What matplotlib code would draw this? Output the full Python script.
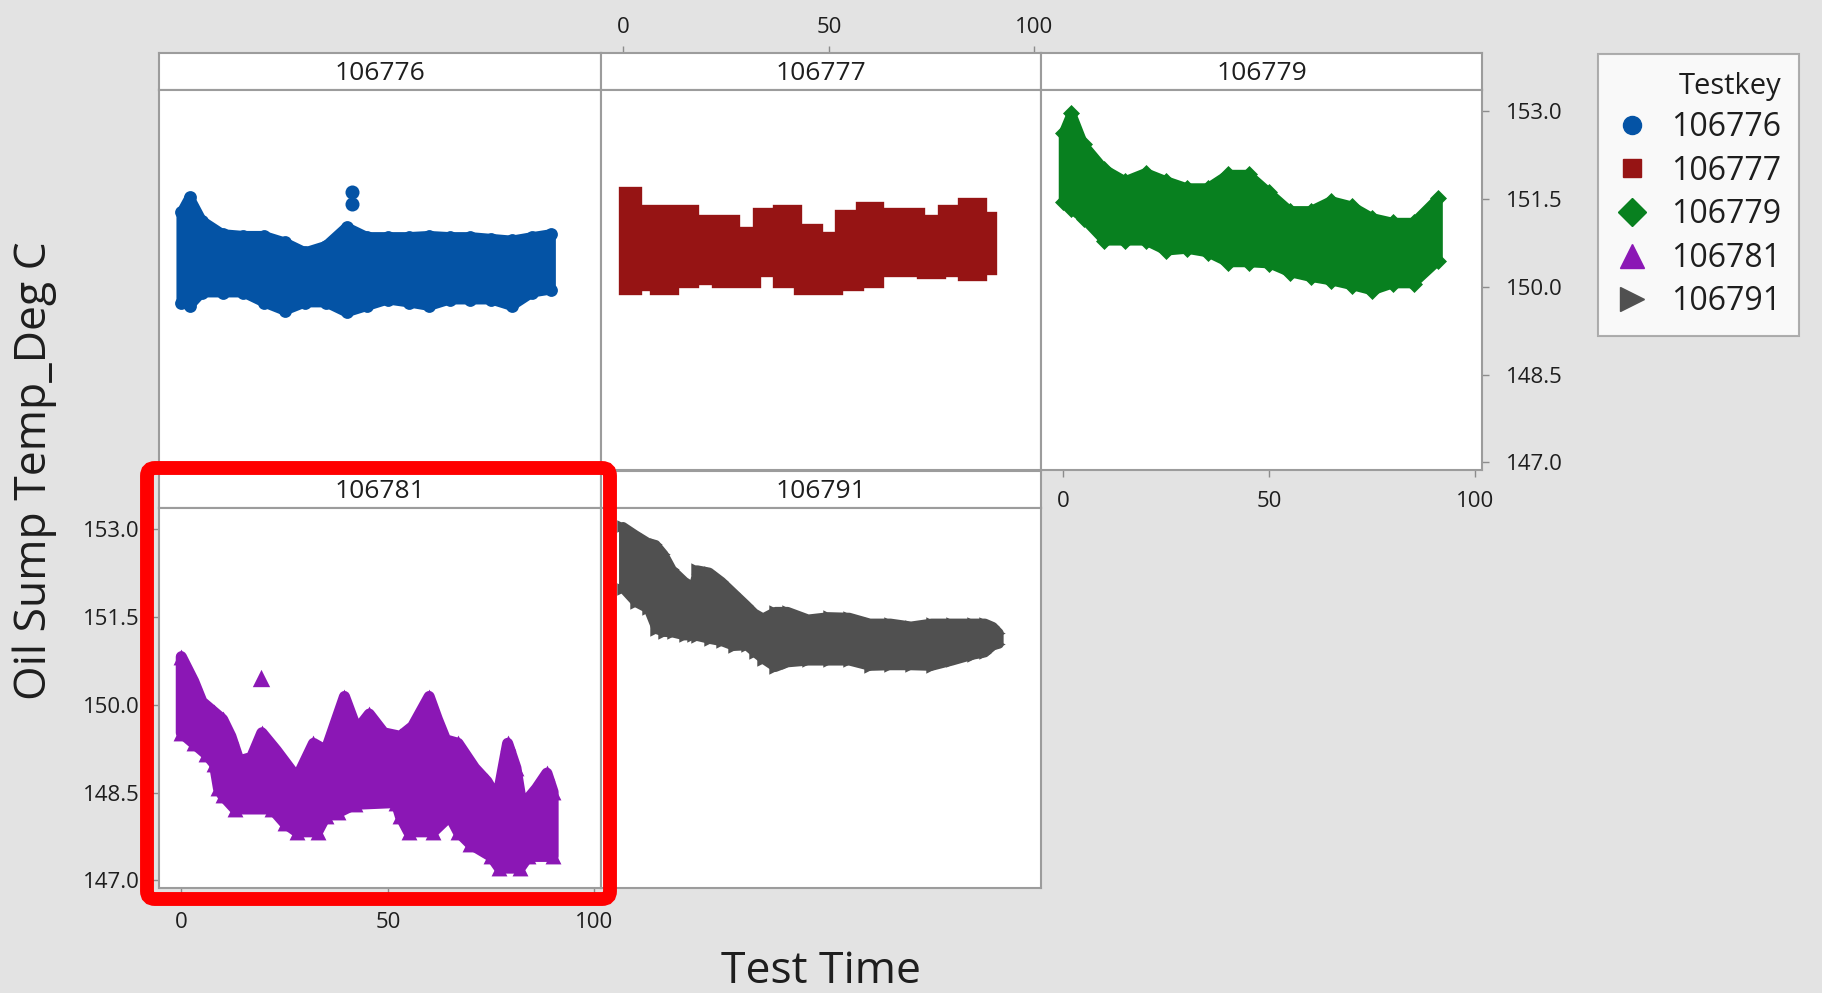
import numpy as np
import matplotlib
matplotlib.use("Agg")
import matplotlib.pyplot as plt
from matplotlib.lines import Line2D
from matplotlib.patches import FancyBboxPatch
from matplotlib.transforms import IdentityTransform

plt.rcParams["font.family"] = ["Open Sans", "DejaVu Sans"]

# Oil sump temperature vs test time, one panel per Testkey.
# Each point cloud is kept as its upper / lower envelope (marker centres).
testkeys = ["106776", "106777", "106779", "106781", "106791"]
colors = ["#0453a5", "#961414", "#08801f", "#8b17b5", "#505050"]
markers = ["o", "s", "D", "^", ">"]

t_106776 = [0, 2, 5, 10, 15, 20, 25, 30, 35, 40, 45, 50, 55, 60, 65, 70, 75, 80, 85, 89.5]
hi_106776 = [151.27, 151.53, 151.13, 150.90, 150.87, 150.87, 150.76, 150.59, 150.70, 151.02,
             150.85, 150.85, 150.85, 150.87, 150.85, 150.85, 150.82, 150.79, 150.85, 150.90]
lo_106776 = [149.73, 149.67, 149.90, 149.90, 149.90, 149.73, 149.59, 149.73, 149.73, 149.56,
             149.67, 149.78, 149.73, 149.67, 149.78, 149.78, 149.78, 149.67, 149.90, 149.95]
out_t_106776 = [41.4, 41.4]
out_y_106776 = [151.61, 151.41]

t_106777 = [0, 2, 5, 10, 15, 20, 25, 30, 35, 40, 45, 50, 55, 60, 65, 70, 75, 80, 85, 90]
hi_106777 = [151.64, 151.64, 151.33, 151.33, 151.33, 151.15, 151.15, 150.96, 151.27, 151.33,
             151.01, 150.87, 151.24, 151.38, 151.27, 151.27, 151.15, 151.33, 151.44, 151.21]
lo_106777 = [149.93, 149.93, 149.99, 149.93, 150.05, 150.10, 150.05, 150.05, 150.24, 150.05,
             149.93, 149.93, 149.99, 150.05, 150.24, 150.24, 150.20, 150.24, 150.16, 150.27]

t_106779 = [0, 2, 5, 10, 15, 20, 25, 30, 35, 40, 45, 50, 55, 60, 65, 70, 75, 80, 85, 91]
hi_106779 = [152.63, 152.97, 152.43, 152.01, 151.81, 151.95, 151.81, 151.69, 151.69, 151.92,
             151.92, 151.61, 151.30, 151.30, 151.47, 151.38, 151.18, 151.10, 151.10, 151.52]
lo_106779 = [151.44, 151.32, 151.15, 150.78, 150.78, 150.78, 150.61, 150.64, 150.58, 150.41,
             150.41, 150.39, 150.24, 150.16, 150.10, 150.02, 149.93, 150.05, 150.05, 150.44]

t_hi_106781 = [0, 3, 5, 8, 10, 12, 14, 17, 19.5, 23, 28, 32, 35, 37, 39.5, 42.5, 45.5, 49, 53,
               56, 60, 62, 64, 67, 71, 74, 76.5, 79, 81, 82.5, 86, 88.5, 90]
hi_106781 = [150.82, 150.40, 150.05, 149.87, 149.75, 149.46, 149.04, 149.10, 149.52, 149.22,
             148.75, 149.34, 149.22, 149.63, 150.14, 149.57, 149.84, 149.52, 149.46, 149.63,
             150.14, 149.75, 149.40, 149.34, 148.92, 148.69, 148.39, 149.34, 148.92, 148.27,
             148.57, 148.83, 148.51]
t_lo_106781 = [0, 3, 6, 8, 9, 10, 13, 22, 25, 28, 33, 35, 38, 42, 52, 53, 55, 61, 65, 67, 70,
               75, 77, 82, 84, 90]
lo_106781 = [149.52, 149.34, 149.16, 148.99, 148.57, 148.45, 148.22, 148.22, 147.98, 147.83,
             147.83, 148.10, 148.16, 148.30, 148.33, 148.10, 147.83, 147.83, 148.10, 147.83,
             147.62, 147.41, 147.21, 147.21, 147.41, 147.41]
out_t_106781 = [19.3]
out_y_106781 = [150.46]

t_106791 = [0, 3, 6, 8, 10, 12, 15, 17, 18, 21, 24, 27, 30, 32, 34, 37, 40, 45, 50, 55, 60,
            65, 70, 75, 80, 85, 88, 90, 91.5]
hi_106791 = [153.05, 152.91, 152.78, 152.74, 152.57, 152.31, 152.11, 152.02, 152.31, 152.27,
             152.11, 151.91, 151.71, 151.57, 151.49, 151.60, 151.60, 151.47, 151.51, 151.50,
             151.40, 151.40, 151.35, 151.40, 151.40, 151.40, 151.40, 151.34, 151.23]
lo_106791 = [151.97, 151.74, 151.63, 151.28, 151.23, 151.22, 151.17, 151.17, 151.16, 151.11,
             151.07, 150.99, 151.00, 150.88, 150.77, 150.63, 150.71, 150.74, 150.74, 150.74,
             150.65, 150.66, 150.66, 150.65, 150.74, 150.84, 150.88, 151.00, 151.03]

x_ticks = [0, 50, 100]
y_ticks = [147.0, 148.5, 150.0, 151.5, 153.0]
x_lim = (-5.4, 101.6)
y_lim = (146.87, 153.36)

series = {
    "106776": (t_106776, hi_106776, t_106776, lo_106776, out_t_106776, out_y_106776),
    "106777": (t_106777, hi_106777, t_106777, lo_106777, [], []),
    "106779": (t_106779, hi_106779, t_106779, lo_106779, [], []),
    "106781": (t_hi_106781, hi_106781, t_lo_106781, lo_106781, out_t_106781, out_y_106781),
    "106791": (t_106791, hi_106791, t_106791, lo_106791, [], []),
}

# ---- layout (pixels of the 1822x993 picture) ----
W, H = 1822, 993
BG = "#e3e3e3"
EDGE = "#9c9c9c"
TXT = "#1e1e1e"
cols = [(159, 601), (601, 1041), (1041, 1482)]
rows = [((53, 90), (90, 470)), ((471, 508), (508, 888))]
panel_pos = {"106776": (0, 0), "106777": (0, 1), "106779": (0, 2),
             "106781": (1, 0), "106791": (1, 1)}
msize = {"o": 85, "s": 60, "D": 75, "^": 130, ">": 80}
edge_lw = {"o": 7, "s": 6, "D": 6.5, "^": 8, ">": 6}


def rect(x0, y0, x1, y1):
    return [x0 / W, 1 - y1 / H, (x1 - x0) / W, (y1 - y0) / H]


def frame(ax):
    for sp in ax.spines.values():
        sp.set_color(EDGE)
        sp.set_linewidth(1.5)
    ax.tick_params(direction="out", length=5, width=1, color="#8c8c8c",
                   labelsize=16, labelcolor=TXT)


fig = plt.figure(figsize=(W / 100, H / 100), dpi=100)
fig.patch.set_facecolor(BG)

for key, col, mk in zip(testkeys, colors, markers):
    r, c = panel_pos[key]
    (hy0, hy1), (py0, py1) = rows[r]
    x0, x1 = cols[c]

    hdr = fig.add_axes(rect(x0, hy0, x1, hy1))
    hdr.set_facecolor("white")
    hdr.set_xlim(x_lim)
    hdr.set_xticks([])
    hdr.set_yticks([])
    frame(hdr)
    hdr.text(0.5, 0.45, key, transform=hdr.transAxes, ha="center", va="center",
             fontsize=19, color=TXT)

    ax = fig.add_axes(rect(x0, py0, x1, py1))
    ax.set_facecolor("white")
    ax.set_xlim(x_lim)
    ax.set_ylim(y_lim)
    ax.set_xticks([])
    ax.set_yticks([])
    frame(ax)

    th, hi, tl, lo, ot, oy = series[key]
    if mk == "s":
        ax.fill_between(th, lo, hi, step="mid", facecolor=col, edgecolor=col,
                        lw=edge_lw[mk], joinstyle="miter", zorder=2)
    else:
        px = np.concatenate([th, tl[::-1]])
        py = np.concatenate([hi, lo[::-1]])
        ax.fill(px, py, facecolor=col, edgecolor=col, lw=edge_lw[mk],
                joinstyle="round", zorder=2)
        ax.scatter(th, hi, marker=mk, s=msize[mk], color=col, lw=0, zorder=3)
        ax.scatter(tl, lo, marker=mk, s=msize[mk], color=col, lw=0, zorder=3)
    if ot:
        ax.scatter(ot, oy, marker=mk, s=msize[mk] * 1.2, color=col, lw=0, zorder=3)

    if key == "106777":
        hdr.xaxis.tick_top()
        hdr.set_xticks(x_ticks)
        hdr.tick_params(axis="x", pad=6)
    if key == "106779":
        ax.yaxis.tick_right()
        ax.set_yticks(y_ticks)
        ax.set_yticklabels([f"{v:.1f}" for v in y_ticks])
        ax.set_xticks(x_ticks)
        ax.tick_params(axis="y", pad=12)
        ax.tick_params(axis="x", pad=10)
    if key == "106781":
        ax.set_yticks(y_ticks)
        ax.set_yticklabels([f"{v:.1f}" for v in y_ticks])
        ax.set_xticks(x_ticks)
        ax.tick_params(axis="y", pad=9)
        ax.tick_params(axis="x", pad=12)

fig.text(35 / W, 1 - 471 / H, "Oil Sump Temp_Deg C", rotation=90, ha="center",
         va="center", fontsize=32, color=TXT)
fig.text(821 / W, 1 - 972 / H, "Test Time", ha="center", va="center",
         fontsize=32, color=TXT)

handles = [Line2D([], [], marker=m, color=c, linestyle="none",
                  markersize={"o": 13, "s": 13, "D": 14, "^": 17, ">": 17}[m])
           for c, m in zip(colors, markers)]
leg = fig.legend(handles, testkeys, title="Testkey", loc="upper left",
                 bbox_to_anchor=(1598 / W, 1 - 54 / H), borderaxespad=0,
                 fontsize=23, title_fontsize=21, frameon=True, fancybox=False,
                 handlelength=1.0, handletextpad=0.75, labelspacing=0.33,
                 borderpad=0.55, alignment="right")
leg.get_frame().set_edgecolor(EDGE)
leg.get_frame().set_linewidth(1.5)
leg.get_frame().set_facecolor("white")
for t in leg.get_texts():
    t.set_color(TXT)
leg.get_title().set_color(TXT)

# red highlight round the 106781 panel
box = FancyBboxPatch((147, H - 899), 463, 431, boxstyle="round,pad=0,rounding_size=8",
                     transform=IdentityTransform(), fill=False, edgecolor="#ff0000",
                     linewidth=10, zorder=10)
fig.add_artist(box)

fig.savefig("out.png", dpi=100, facecolor=fig.get_facecolor())
